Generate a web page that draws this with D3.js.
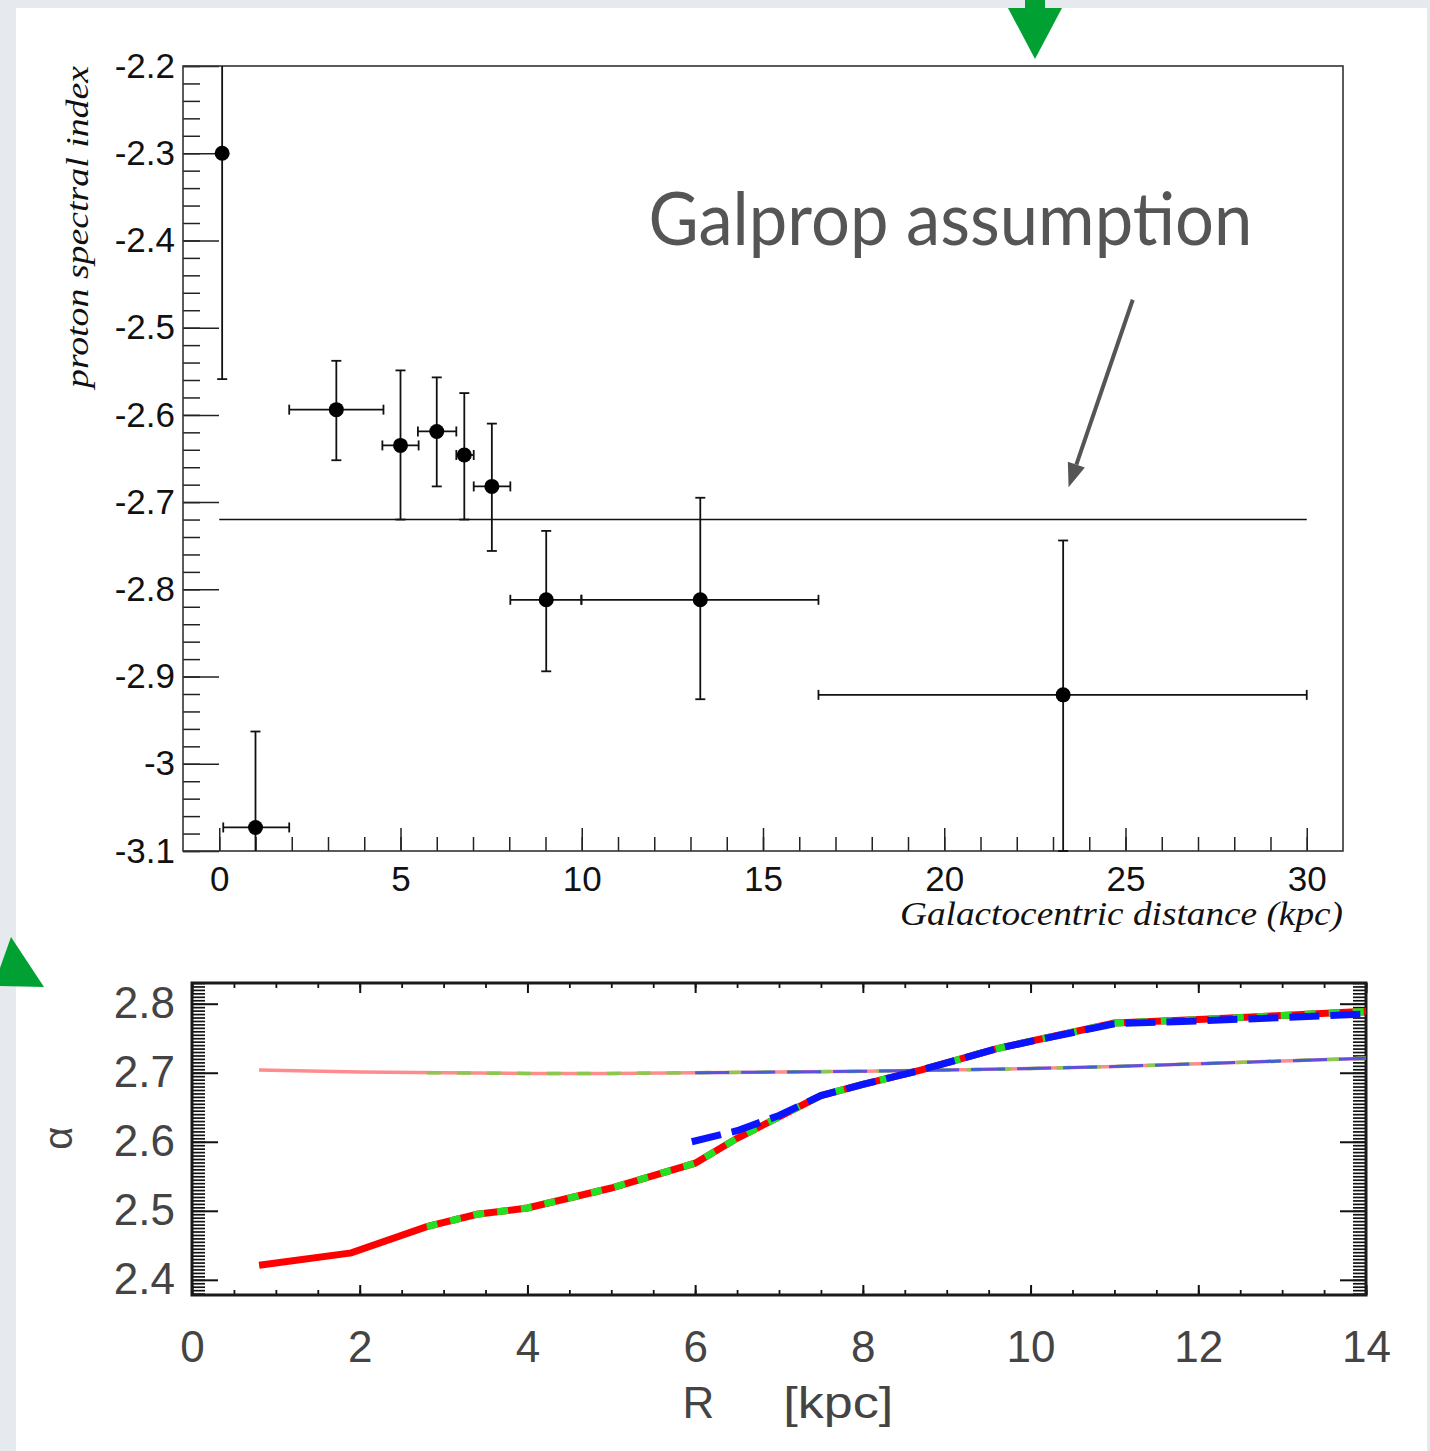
<!DOCTYPE html>
<html>
<head>
<meta charset="utf-8">
<script src="https://cdn.jsdelivr.net/npm/d3@7"></script>
<style>
  html, body { margin: 0; padding: 0; background: #e6e9ed; }
  svg { display: block; }
</style>
</head>
<body>
<script>
// ---- top panel data (proton spectral index vs galactocentric distance) ----
const pointR      = [0.08, 1.0, 3.23, 5.0, 6.0, 6.76, 7.52, 9.02, 13.27, 23.28]
const pointIndex  = [-2.30, -3.073, -2.594, -2.635, -2.619, -2.646, -2.682, -2.812, -2.812, -2.921]
const rLow        = [0.08, 0.11, 1.93, 4.5, 5.48, 6.54, 7.02, 8.03, 9.99, 16.53]
const rHigh       = [0.08, 1.93, 4.53, 5.5, 6.54, 7.02, 8.03, 9.99, 16.53, 30.0]
const indexLow    = [-2.559, -3.15, -2.652, -2.72, -2.682, -2.72, -2.756, -2.894, -2.926, -3.1]
const indexHigh   = [-2.15, -2.963, -2.538, -2.549, -2.557, -2.575, -2.61, -2.733, -2.695, -2.744]
const galpropIndex = -2.72
const galpropRange = [0, 30]

const topYTicks  = [-3.1, -3.0, -2.9, -2.8, -2.7, -2.6, -2.5, -2.4, -2.3, -2.2]
const topYLabels = ['-3.1', '-3', '-2.9', '-2.8', '-2.7', '-2.6', '-2.5', '-2.4', '-2.3', '-2.2']
const topXTicks  = [0, 5, 10, 15, 20, 25, 30]

// ---- bottom panel data (alpha vs R) ----
const thinRedR     = [0.8, 2.0, 3.0, 4.0, 5.0, 6.0, 7.0, 8.0, 9.0, 10.0, 11.0, 12.0, 13.0, 14.0]
const thinRedA     = [2.704, 2.701, 2.700, 2.699, 2.699, 2.700, 2.701, 2.702, 2.704, 2.706, 2.709, 2.713, 2.717, 2.721]
const thinGreenR   = [2.8, 4.0, 5.0, 6.0, 7.0, 8.0, 9.0, 10.0, 11.0, 12.0, 13.0, 14.0]
const thinGreenA   = [2.700, 2.699, 2.699, 2.700, 2.701, 2.702, 2.704, 2.706, 2.709, 2.713, 2.717, 2.721]
const thinBlueR    = [6.0, 7.0, 8.0, 9.0, 10.0, 11.0, 12.0, 13.0, 14.0]
const thinBlueA    = [2.700, 2.701, 2.702, 2.704, 2.706, 2.709, 2.713, 2.717, 2.721]

const thickRedR    = [0.8, 1.9, 2.8, 3.4, 4.0, 5.0, 6.0, 6.5, 7.0, 7.5, 8.0, 8.7, 9.6, 11.0, 12.0, 13.0, 14.0]
const thickRedA    = [2.421, 2.439, 2.477, 2.495, 2.504, 2.533, 2.569, 2.605, 2.636, 2.667, 2.683, 2.704, 2.735, 2.772, 2.777, 2.783, 2.789]
const thickGreenR  = [2.8, 3.4, 4.0, 5.0, 6.0, 6.5, 7.0, 7.5, 8.0, 8.7, 9.6, 11.0, 12.0, 13.0, 14.0]
const thickGreenA  = [2.477, 2.495, 2.504, 2.533, 2.569, 2.605, 2.636, 2.667, 2.683, 2.704, 2.735, 2.772, 2.777, 2.783, 2.789]
const thickBlueR   = [5.96, 6.5, 7.0, 7.5, 8.0, 8.7, 9.6, 11.0, 12.0, 13.0, 14.0]
const thickBlueA   = [2.600, 2.616, 2.638, 2.667, 2.683, 2.704, 2.735, 2.771, 2.775, 2.780, 2.785]

const botXTicks  = [0, 2, 4, 6, 8, 10, 12, 14]
const botYTicks  = [2.4, 2.5, 2.6, 2.7, 2.8]

const W = 1430, H = 1451
const helv = "'Liberation Sans', Arial, Helvetica, sans-serif"
const times = "'Liberation Serif', 'Times New Roman', serif"

const svg = d3.select('body').append('svg')
  .attr('width', W).attr('height', H)
  .attr('viewBox', `0 0 ${W} ${H}`)

// slide background
svg.append('rect').attr('width', W).attr('height', H).attr('fill', '#e6e9ed')
svg.append('rect').attr('x', 16).attr('y', 8).attr('width', 1411).attr('height', H - 8).attr('fill', '#ffffff')

// ================= top panel =================
const xT = d3.scaleLinear().domain([-1, 31]).range([183, 1343])
const yT = d3.scaleLinear().domain([-3.1, -2.2]).range([851, 66])
const topG = svg.append('g')

function styleAxis(g, color, width) {
  g.select('.domain').remove()
  g.selectAll('.tick line').attr('stroke', color).attr('stroke-width', width)
}

// minor ticks
const yMinor = d3.range(0, 46).map(i => +(-3.1 + i * 0.02).toFixed(3))
topG.append('g').attr('transform', `translate(${xT.range()[0]},0)`)
  .call(d3.axisLeft(yT).tickValues(yMinor).tickSize(-17).tickFormat(''))
  .call(g => styleAxis(g, '#222', 1.5))
const xMinor = d3.range(0, 31)
topG.append('g').attr('transform', `translate(0,${yT.range()[0]})`)
  .call(d3.axisBottom(xT).tickValues(xMinor).tickSize(-14).tickFormat(''))
  .call(g => styleAxis(g, '#222', 1.5))

// major ticks + labels
topG.append('g').attr('transform', `translate(${xT.range()[0]},0)`)
  .call(d3.axisLeft(yT).tickValues(topYTicks).tickSize(-36).tickPadding(8)
    .tickFormat((d, i) => topYLabels[i]))
  .call(g => styleAxis(g, '#222', 1.5))
  .call(g => g.selectAll('text').attr('font-family', helv).attr('font-size', 35).attr('fill', '#111'))
topG.append('g').attr('transform', `translate(0,${yT.range()[0]})`)
  .call(d3.axisBottom(xT).tickValues(topXTicks).tickSize(-23).tickPadding(15).tickFormat(d => String(d)))
  .call(g => styleAxis(g, '#222', 1.5))
  .call(g => g.selectAll('text').attr('font-family', helv).attr('font-size', 35).attr('fill', '#111'))

// frame
topG.append('rect')
  .attr('x', xT.range()[0]).attr('y', yT.range()[1])
  .attr('width', xT.range()[1] - xT.range()[0]).attr('height', yT.range()[0] - yT.range()[1])
  .attr('fill', 'none').attr('stroke', '#333').attr('stroke-width', 1.6)

// galprop line
topG.append('line')
  .attr('x1', xT(galpropRange[0])).attr('x2', xT(galpropRange[1]))
  .attr('y1', yT(galpropIndex)).attr('y2', yT(galpropIndex))
  .attr('stroke', '#111').attr('stroke-width', 1.6)

// error bars and markers
const yMinT = yT.domain()[0], yMaxT = yT.domain()[1]
const cap = 5
const eb = topG.append('g').attr('stroke', '#111').attr('stroke-width', 1.8)
pointR.forEach((r, i) => {
  const lo = Math.max(indexLow[i], yMinT), hi = Math.min(indexHigh[i], yMaxT)
  eb.append('line').attr('x1', xT(r)).attr('x2', xT(r)).attr('y1', yT(lo)).attr('y2', yT(hi))
  if (indexLow[i] >= yMinT - 1e-9) {
    eb.append('line').attr('x1', xT(r) - cap).attr('x2', xT(r) + cap).attr('y1', yT(indexLow[i])).attr('y2', yT(indexLow[i]))
  }
  if (indexHigh[i] <= yMaxT + 1e-9) {
    eb.append('line').attr('x1', xT(r) - cap).attr('x2', xT(r) + cap).attr('y1', yT(indexHigh[i])).attr('y2', yT(indexHigh[i]))
  }
  if (rHigh[i] > rLow[i]) {
    eb.append('line').attr('x1', xT(rLow[i])).attr('x2', xT(rHigh[i])).attr('y1', yT(pointIndex[i])).attr('y2', yT(pointIndex[i]))
    ;[rLow[i], rHigh[i]].forEach(rr => {
      eb.append('line').attr('x1', xT(rr)).attr('x2', xT(rr))
        .attr('y1', yT(pointIndex[i]) - cap).attr('y2', yT(pointIndex[i]) + cap)
    })
  }
})
topG.append('g').selectAll('circle').data(pointR).join('circle')
  .attr('cx', d => xT(d)).attr('cy', (d, i) => yT(pointIndex[i]))
  .attr('r', 7.5).attr('fill', '#000')

// axis titles
topG.append('text')
  .attr('x', xT.range()[1]).attr('y', 925)
  .attr('text-anchor', 'end')
  .attr('font-family', times).attr('font-style', 'italic').attr('font-size', 34)
  .attr('fill', '#111')
  .attr('textLength', 443).attr('lengthAdjust', 'spacingAndGlyphs')
  .text('Galactocentric distance (kpc)')
topG.append('text')
  .attr('transform', `translate(88,${yT.range()[1] + 322}) rotate(-90)`)
  .attr('font-family', times).attr('font-style', 'italic').attr('font-size', 31)
  .attr('fill', '#111')
  .attr('textLength', 322).attr('lengthAdjust', 'spacingAndGlyphs')
  .text('proton spectral index')

// annotation
topG.append('text')
  .attr('x', xT(11.84)).attr('y', yT(-2.405))
  .attr('font-family', "'Gill Sans', 'Gill Sans MT', Lato, 'Open Sans', sans-serif")
  .attr('font-size', 74).attr('fill', '#555')
  .attr('textLength', 604).attr('lengthAdjust', 'spacingAndGlyphs')
  .text('Galprop assumption')

const a0 = [xT(25.2), yT(-2.468)], a1 = [xT(23.43), yT(-2.683)]
const dx = a1[0] - a0[0], dy = a1[1] - a0[1], len = Math.hypot(dx, dy)
const ux = dx / len, uy = dy / len, headL = 24, headW = 9
topG.append('line')
  .attr('x1', a0[0]).attr('y1', a0[1])
  .attr('x2', a1[0] - ux * headL).attr('y2', a1[1] - uy * headL)
  .attr('stroke', '#555').attr('stroke-width', 4)
topG.append('polygon')
  .attr('points', [
    a1,
    [a1[0] - ux * headL - uy * headW, a1[1] - uy * headL + ux * headW],
    [a1[0] - ux * headL + uy * headW, a1[1] - uy * headL - ux * headW],
  ].map(p => p.join(',')).join(' '))
  .attr('fill', '#555')

// green slide arrows
svg.append('rect').attr('x', 1025).attr('y', 0).attr('width', 20).attr('height', 10).attr('fill', '#00a032')
svg.append('polygon').attr('points', '1008,8 1062,8 1035,59').attr('fill', '#00a032')
svg.append('polygon').attr('points', '11,937 44,987 0,986 0,968').attr('fill', '#00a032')

// ================= bottom panel =================
const xB = d3.scaleLinear().domain([0, 14]).range([192, 1366])
const yB = d3.scaleLinear().domain([2.378, 2.83]).range([1295, 983])
const botG = svg.append('g')

const bYMinor = d3.range(0, 91).map(i => +(2.38 + i * 0.005).toFixed(3))
const bXMinor = d3.range(0, 29).map(i => i * 0.5)
const axColor = '#111'

botG.append('g').attr('transform', `translate(${xB.range()[0]},0)`)
  .call(d3.axisLeft(yB).tickValues(bYMinor).tickSize(-13).tickFormat(''))
  .call(g => styleAxis(g, axColor, 1.7))
botG.append('g').attr('transform', `translate(${xB.range()[1]},0)`)
  .call(d3.axisRight(yB).tickValues(bYMinor).tickSize(-13).tickFormat(''))
  .call(g => styleAxis(g, axColor, 1.7))
botG.append('g').attr('transform', `translate(0,${yB.range()[0]})`)
  .call(d3.axisBottom(xB).tickValues(bXMinor).tickSize(-5).tickFormat(''))
  .call(g => styleAxis(g, axColor, 1.8))
botG.append('g').attr('transform', `translate(0,${yB.range()[1]})`)
  .call(d3.axisTop(xB).tickValues(bXMinor).tickSize(-5).tickFormat(''))
  .call(g => styleAxis(g, axColor, 1.8))

botG.append('g').attr('transform', `translate(${xB.range()[0]},0)`)
  .call(d3.axisLeft(yB).tickValues(botYTicks).tickSize(-26).tickPadding(17).tickFormat(d3.format('.1f')))
  .call(g => styleAxis(g, axColor, 2))
  .call(g => g.selectAll('text').attr('font-family', helv).attr('font-size', 44).attr('fill', '#444'))
botG.append('g').attr('transform', `translate(${xB.range()[1]},0)`)
  .call(d3.axisRight(yB).tickValues(botYTicks).tickSize(-26).tickFormat(''))
  .call(g => styleAxis(g, axColor, 2))
botG.append('g').attr('transform', `translate(0,${yB.range()[0]})`)
  .call(d3.axisBottom(xB).tickValues(botXTicks).tickSize(-10).tickPadding(36).tickFormat(d => String(d)))
  .call(g => styleAxis(g, axColor, 2))
  .call(g => g.selectAll('text').attr('font-family', helv).attr('font-size', 44).attr('fill', '#444'))
botG.append('g').attr('transform', `translate(0,${yB.range()[1]})`)
  .call(d3.axisTop(xB).tickValues(botXTicks).tickSize(-10).tickFormat(''))
  .call(g => styleAxis(g, axColor, 2))

botG.append('rect')
  .attr('x', xB.range()[0]).attr('y', yB.range()[1])
  .attr('width', xB.range()[1] - xB.range()[0]).attr('height', yB.range()[0] - yB.range()[1])
  .attr('fill', 'none').attr('stroke', '#1a1a1a').attr('stroke-width', 3)

const lineGen = d3.line().x(d => xB(d[0])).y(d => yB(d[1]))
function drawSeries(rs, as, color, width, dash, opacity) {
  botG.append('path')
    .datum(rs.map((r, i) => [r, as[i]]))
    .attr('d', lineGen)
    .attr('fill', 'none')
    .attr('stroke', color).attr('stroke-width', width)
    .attr('stroke-dasharray', dash || null)
    .attr('stroke-opacity', opacity == null ? 1 : opacity)
}

// thin (constant index) curves
drawSeries(thinRedR, thinRedA, '#ff8c8c', 3.5, null, 1)
drawSeries(thinGreenR, thinGreenA, '#8cc850', 3.5, '14,16', 1)
drawSeries(thinBlueR, thinBlueA, '#2a3cff', 3, '34,12', 0.75)

// thick (varying index) curves
drawSeries(thickRedR, thickRedA, '#ff0000', 7, null, 1)
drawSeries(thickGreenR, thickGreenA, '#22e022', 7, '11,13', 1)
drawSeries(thickBlueR, thickBlueA, '#0a14ff', 7, '30,11', 1)

// bottom labels
botG.append('text')
  .attr('x', xB(5.85)).attr('y', 1418)
  .attr('font-family', helv).attr('font-size', 44).attr('fill', '#444')
  .text('R')
botG.append('text')
  .attr('x', xB(7.05)).attr('y', 1418)
  .attr('font-family', helv).attr('font-size', 44).attr('fill', '#444')
  .attr('textLength', 110).attr('lengthAdjust', 'spacingAndGlyphs')
  .text('[kpc]')
botG.append('text')
  .attr('transform', `translate(72,${yB(2.605)}) rotate(-90)`)
  .attr('text-anchor', 'middle')
  .attr('font-family', helv).attr('font-size', 40).attr('fill', '#444')
  .text('α')
</script>
</body>
</html>
